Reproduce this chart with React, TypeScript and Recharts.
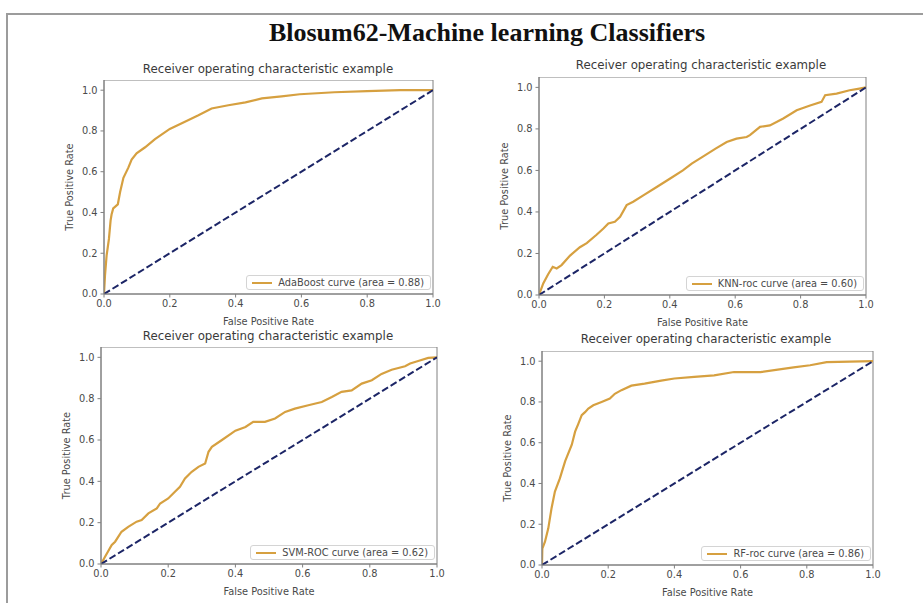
import React from 'react';
import { LineChart, Line, XAxis, YAxis, ReferenceArea, Legend } from 'recharts';

const mainTitle = 'Blosum62-Machine learning Classifiers';
const panelTitle = 'Receiver operating characteristic example';
const xLabel = 'False Positive Rate';
const yLabel = 'True Positive Rate';
const axisTicks = [0, 0.2, 0.4, 0.6, 0.8, 1.0];

const chanceFpr = [0, 1];
const chanceTpr = [0, 1];

const adaName = 'AdaBoost curve (area = 0.88)';
const adaFpr = [0, 0.003, 0.008, 0.015, 0.02, 0.023, 0.028, 0.042, 0.049, 0.059, 0.074, 0.084, 0.099, 0.125, 0.155, 0.2, 0.246, 0.287, 0.327, 0.378, 0.43, 0.48, 0.54, 0.595, 0.7, 0.8, 0.9, 1];
const adaTpr = [0, 0.09, 0.19, 0.27, 0.36, 0.39, 0.42, 0.44, 0.5, 0.57, 0.62, 0.66, 0.69, 0.72, 0.76, 0.81, 0.845, 0.877, 0.91, 0.926, 0.94, 0.96, 0.97, 0.98, 0.99, 0.995, 1.0, 1.0];

const knnName = 'KNN-roc curve (area = 0.60)';
const knnFpr = [0, 0.013, 0.028, 0.042, 0.054, 0.069, 0.095, 0.125, 0.146, 0.176, 0.197, 0.212, 0.232, 0.248, 0.268, 0.288, 0.319, 0.36, 0.4, 0.44, 0.467, 0.5, 0.54, 0.574, 0.604, 0.635, 0.645, 0.676, 0.706, 0.747, 0.788, 0.829, 0.864, 0.875, 0.91, 0.95, 0.98, 1];
const knnTpr = [0, 0.056, 0.1, 0.136, 0.128, 0.144, 0.19, 0.23, 0.25, 0.29, 0.32, 0.345, 0.353, 0.377, 0.433, 0.449, 0.48, 0.52, 0.56, 0.6, 0.633, 0.665, 0.705, 0.737, 0.753, 0.761, 0.77, 0.81, 0.817, 0.85, 0.89, 0.913, 0.93, 0.962, 0.97, 0.986, 0.994, 1];

const svmName = 'SVM-ROC curve (area = 0.62)';
const svmFpr = [0, 0.012, 0.032, 0.042, 0.061, 0.081, 0.106, 0.121, 0.141, 0.166, 0.176, 0.2, 0.22, 0.235, 0.25, 0.27, 0.29, 0.31, 0.32, 0.33, 0.36, 0.4, 0.43, 0.453, 0.488, 0.518, 0.548, 0.577, 0.617, 0.657, 0.687, 0.716, 0.746, 0.776, 0.806, 0.835, 0.865, 0.905, 0.92, 0.944, 0.974, 1];
const svmTpr = [0, 0.035, 0.092, 0.108, 0.156, 0.18, 0.205, 0.213, 0.245, 0.269, 0.293, 0.317, 0.35, 0.374, 0.414, 0.446, 0.47, 0.486, 0.543, 0.567, 0.6, 0.645, 0.663, 0.688, 0.688, 0.704, 0.736, 0.752, 0.768, 0.784, 0.808, 0.833, 0.84, 0.873, 0.889, 0.92, 0.94, 0.957, 0.97, 0.982, 0.997, 1];

const rfName = 'RF-roc curve (area = 0.86)';
const rfFpr = [0, 0.001, 0.009, 0.019, 0.029, 0.039, 0.054, 0.07, 0.09, 0.1, 0.11, 0.12, 0.13, 0.14, 0.155, 0.18, 0.205, 0.22, 0.24, 0.27, 0.31, 0.36, 0.4, 0.46, 0.52, 0.58, 0.66, 0.76, 0.81, 0.86, 1];
const rfTpr = [0, 0.08, 0.114, 0.18, 0.28, 0.36, 0.425, 0.51, 0.59, 0.654, 0.694, 0.735, 0.75, 0.768, 0.784, 0.8, 0.817, 0.84, 0.858, 0.88, 0.89, 0.905, 0.915, 0.923, 0.93, 0.947, 0.946, 0.97, 0.98, 0.995, 1];

const ROC_COLOR = '#d6a040';
const DIAG_COLOR = '#1c2566';
const SPINE = '#808080';
const TEXT = '#4a4a4a';
const FONT = 'DejaVu Sans, sans-serif';
const SMALL = 9.8;

const toRows = (fpr: number[], tpr: number[]) => fpr.map((f, i) => ({ fpr: f, tpr: tpr[i] }));

type PanelProps = {
  name: string;
  fpr: number[];
  tpr: number[];
  L: number; R: number; T: number; B: number;
  titleX: number; titleY: number;
};

const YW = 45;
const XH = 34;
const MR = 14;

const LegendBox = (props: any) => {
  const items = (props.payload || []).filter((p: any) => p.type !== 'none');
  return (
    <div style={{
      border: '1px solid #d4d4d4', borderRadius: 3, background: 'rgba(255,255,255,0.85)',
      padding: '1px 6px 1px 5px', display: 'flex', alignItems: 'center',
      fontFamily: FONT, fontSize: SMALL, color: TEXT, whiteSpace: 'nowrap'
    }}>
      {items.map((it: any) => (
        <React.Fragment key={it.value}>
          <svg width={20} height={8} style={{ marginRight: 6 }}>
            <line x1={0} y1={4} x2={20} y2={4} stroke={it.color} strokeWidth={2} />
          </svg>
          <span>{it.value}</span>
        </React.Fragment>
      ))}
    </div>
  );
};

const Panel = ({ name, fpr, tpr, L, R, T, B, titleX, titleY }: PanelProps) => {
  const width = R - L + YW + MR;
  const height = B - T + XH;
  const rows = toRows(fpr, tpr);
  const chance = toRows(chanceFpr, chanceTpr);
  const tickStyle = { fontSize: SMALL, fill: TEXT, fontFamily: FONT };
  return (
    <>
      <div style={{
        position: 'absolute', left: titleX - 200, top: titleY - 9, width: 400, textAlign: 'center',
        fontFamily: FONT, fontSize: 11.8, color: '#3a3a3a', lineHeight: '18px'
      }}>{panelTitle}</div>
      <div style={{ position: 'absolute', left: L - YW, top: T }}>
        <LineChart width={width} height={height} margin={{ top: 0, right: MR, bottom: 0, left: 0 }}>
          <XAxis
            dataKey="fpr" type="number" domain={[0, 1]} ticks={axisTicks}
            tickFormatter={(v: number) => v.toFixed(1)} allowDataOverflow
            height={XH} tickSize={3.5} tickMargin={2.5} stroke={SPINE} tick={tickStyle}
            label={{ value: xLabel, position: 'insideBottom', offset: 3, style: { fontSize: SMALL, fill: TEXT, fontFamily: FONT } }}
          />
          <YAxis
            type="number" domain={[0, 1.05]} ticks={axisTicks}
            tickFormatter={(v: number) => v.toFixed(1)} allowDataOverflow
            width={YW} tickSize={3.5} tickMargin={3} stroke={SPINE} tick={tickStyle}
            label={{ value: yLabel, angle: -90, position: 'insideLeft', offset: 11, style: { textAnchor: 'middle', fontSize: SMALL, fill: TEXT, fontFamily: FONT } }}
          />
          <ReferenceArea x1={0} x2={1} y1={0} y2={1.05} fill="none" stroke={SPINE} strokeWidth={1} />
          <Line data={rows} dataKey="tpr" name={name} type="linear" stroke={ROC_COLOR} strokeWidth={2.2} dot={false} isAnimationActive={false} />
          <Line data={chance} dataKey="tpr" name="chance" legendType="none" type="linear" stroke={DIAG_COLOR} strokeWidth={2} strokeDasharray="7 3" dot={false} isAnimationActive={false} />
          <Legend
            layout="horizontal" verticalAlign="middle" align="center"
            content={<LegendBox />}
            wrapperStyle={{ left: 'auto', top: 'auto', right: MR + 2, bottom: XH + 4, width: 'auto', height: 'auto' }}
          />
        </LineChart>
      </div>
    </>
  );
};

export default function App() {
  return (
    <div style={{ position: 'absolute', left: 0, top: 0, width: 923, height: 603, background: '#fff', overflow: 'hidden' }}>
      <div style={{ position: 'absolute', left: 6, top: 13, width: 930, height: 600, borderTop: '2px solid #9c9c9c', borderLeft: '2px solid #9c9c9c' }} />
      <div style={{
        position: 'absolute', left: 187, top: 18, width: 600, textAlign: 'center',
        fontFamily: '"Liberation Serif", "Times New Roman", serif', fontWeight: 'bold', fontSize: 26, color: '#111', lineHeight: '30px'
      }}>{mainTitle}</div>
      <Panel name={adaName} fpr={adaFpr} tpr={adaTpr} L={104} R={433} T={80} B={294} titleX={268} titleY={69} />
      <Panel name={knnName} fpr={knnFpr} tpr={knnTpr} L={539} R={866} T={77} B={295} titleX={701} titleY={65} />
      <Panel name={svmName} fpr={svmFpr} tpr={svmTpr} L={101} R={437} T={347} B={564} titleX={268} titleY={336} />
      <Panel name={rfName} fpr={rfFpr} tpr={rfTpr} L={542} R={873} T={351} B={565} titleX={706} titleY={339} />
    </div>
  );
}
